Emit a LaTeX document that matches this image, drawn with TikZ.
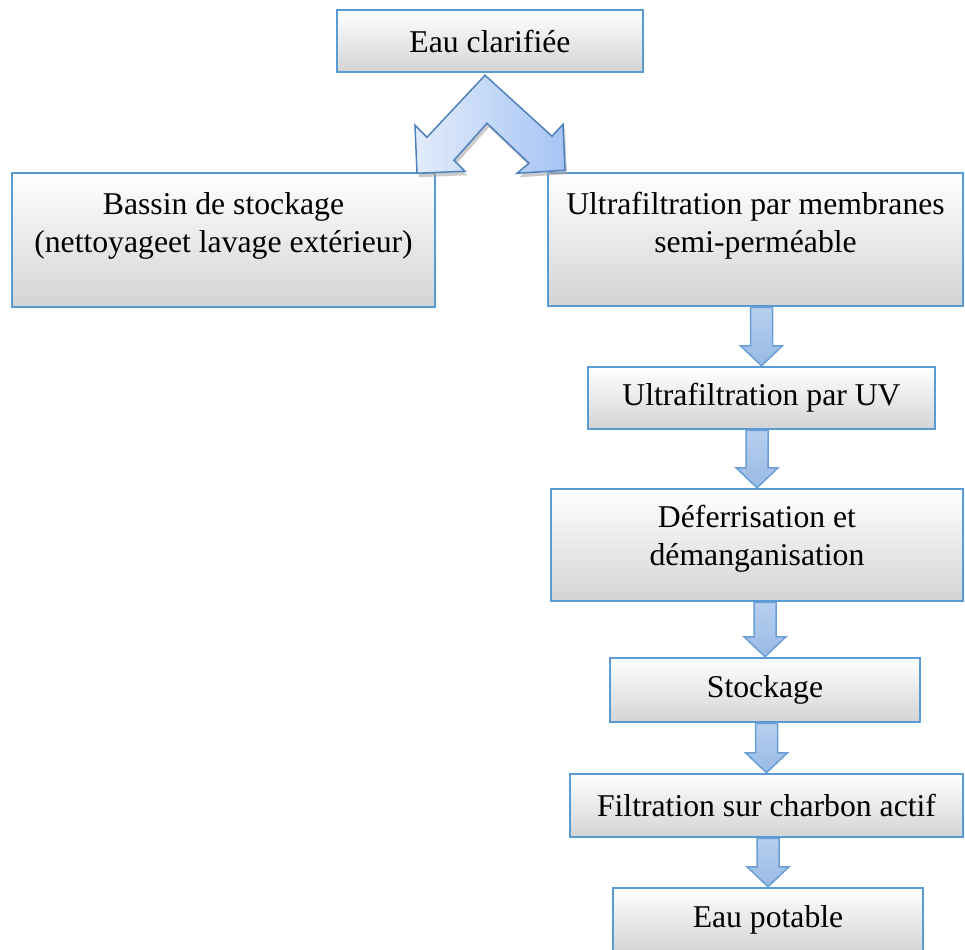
\documentclass[tikz,border=0pt]{standalone}
\usepackage{fontspec}
\setmainfont{Liberation Serif}
\usepackage{tikz}
\usetikzlibrary{calc,positioning}
\definecolor{bordbleu}{HTML}{5B9BD5}
\definecolor{flechehaut}{HTML}{B7CFEF}
\definecolor{flechebas}{HTML}{98BAE4}
\definecolor{flechebord}{HTML}{6A9FD6}
\definecolor{chevgauche}{HTML}{E2ECFB}
\definecolor{chevdroite}{HTML}{A6C4F4}
\definecolor{chevbord}{HTML}{4F81BD}
\newcommand{\flecheversbas}[2]{%
	\draw[fleche] let \p1=(#1.south), \p2=(#2.north) in
	  (\x2-11pt,\y1) -- (\x2+11pt,\y1) -- (\x2+11pt,\y2+20pt) -- (\x2+21pt,\y2+20pt)
	  -- (\x2,\y2) -- (\x2-21pt,\y2+20pt) -- (\x2-11pt,\y2+20pt) -- cycle;}

\begin{document}
\begin{tikzpicture}[x=1pt,y=-1pt,
	boite/.style={draw=bordbleu,line width=2.5pt,top color=white,bottom color=black!17,
	  inner sep=0pt,align=center,font=\fontsize{31.7}{38}\selectfont},
	fleche/.style={draw=flechebord,line width=1.5pt,top color=flechehaut,bottom color=flechebas},
	chevron/.style={draw=chevbord,line width=1.5pt,left color=chevgauche,right color=chevdroite,line join=miter}]
	\useasboundingbox (0,0) rectangle (965,949);

	 \node at (490,41) [boite,minimum width=306,minimum height=62] (clarif) {Eau clarifiée};
	 \node at (223.5,240) [boite,minimum width=423,minimum height=134,text depth=35pt] (bassin) {Bassin de stockage\\(nettoyageet lavage extérieur)};
	 \node at (755.5,239.5) [boite,minimum width=415,minimum height=133,text depth=35pt] (membranes) {Ultrafiltration par membranes\\semi-perméable};
	 \node at (761.5,398) [boite,minimum width=347,minimum height=62] (uv) {Ultrafiltration par UV};
	 \node at (757,545) [boite,minimum width=412,minimum height=112,text depth=19pt] (deferr) {Déferrisation et\\démanganisation};
	 \node at (765,690) [boite,minimum width=310,minimum height=64] (stockage) {Stockage};
	 \node at (766.5,805.5) [boite,minimum width=393,minimum height=63] (charbon) {Filtration sur charbon actif};
	 \node at (768,920) [boite,minimum width=310,minimum height=64] (potable) {Eau potable};

	 \begin{scope}[shift={(clarif.south)}]
	 \fill[black!35,opacity=0.6,xshift=2pt,yshift=-4pt] (-5,2) -- (62,63) -- (73,51) -- (75,97) -- (27,100) -- (39,90) -- (-3,50) -- (-36,87) -- (-25,98) -- (-73,100) -- (-75,52) -- (-63,64) -- cycle;
	 \draw[chevron] (-5,2) -- (62,63) -- (73,51) -- (75,97) -- (27,100) -- (39,90) -- (-3,50) -- (-36,87) -- (-25,98) -- (-73,100) -- (-75,52) -- (-63,64) -- cycle;
	 \end{scope}

	 \flecheversbas{membranes}{uv}
	 \flecheversbas{uv}{deferr}
	 \flecheversbas{deferr}{stockage}
	 \flecheversbas{stockage}{charbon}
	 \flecheversbas{charbon}{potable}

\end{tikzpicture}
\end{document}
